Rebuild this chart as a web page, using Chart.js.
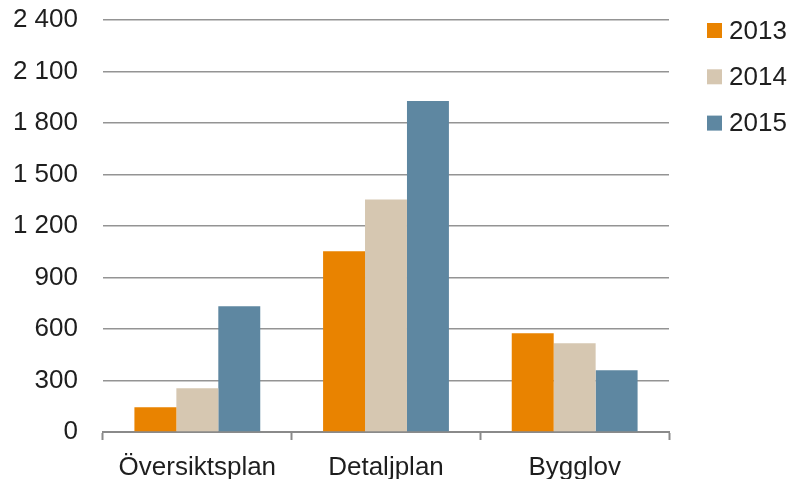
<!DOCTYPE html>
<html>
<head>
<meta charset="utf-8">
<script src="https://cdn.jsdelivr.net/npm/chart.js@4"></script>
<style>
  html, body { margin: 0; padding: 0; background: #ffffff; }
  #wrap { width: 792px; height: 479px; }
</style>
</head>
<body>
<div id="wrap"><canvas id="c" width="792" height="479"></canvas></div>
<script>
// Plan- och bygglovsärenden per typ och år
const categories = ['Översiktsplan', 'Detaljplan', 'Bygglov'];
const years = ['2013', '2014', '2015'];
const v2013 = [144, 1053, 575];
const v2014 = [255, 1355, 517];
const v2015 = [733, 1928, 360];
const yTicks = [0, 300, 600, 900, 1200, 1500, 1800, 2100, 2400];

const colors = ['#e98300', '#d6c7b1', '#5e87a1'];
const FONT = "'Liberation Sans', Arial, Helvetica, sans-serif";
const TEXT = '#1e1e1e';

// thousands grouped with a space: 2400 -> "2 400"
const fmt = v => String(v).replace(/\B(?=(\d{3})+(?!\d))/g, ' ');

// Legend stacked in the right margin
const sideLegend = {
  id: 'sideLegend',
  afterDraw(chart) {
    const ctx = chart.ctx;
    ctx.save();
    ctx.font = '26px ' + FONT;
    ctx.textBaseline = 'middle';
    ctx.textAlign = 'left';
    chart.data.datasets.forEach((ds, i) => {
      const cy = 30.5 + i * 46.3;
      ctx.fillStyle = ds.backgroundColor;
      ctx.fillRect(707, cy - 7.5, 15, 15);
      ctx.fillStyle = TEXT;
      ctx.fillText(ds.label, 729, cy + 1);
    });
    ctx.restore();
  }
};

new Chart(document.getElementById('c'), {
  type: 'bar',
  data: {
    labels: categories,
    datasets: [
      { label: years[0], data: v2013, backgroundColor: colors[0] },
      { label: years[1], data: v2014, backgroundColor: colors[1] },
      { label: years[2], data: v2015, backgroundColor: colors[2] }
    ]
  },
  options: {
    responsive: false,
    animation: false,
    devicePixelRatio: 1,
    layout: { padding: { top: 20, right: 123, bottom: 0, left: 0 } },
    datasets: {
      bar: { categoryPercentage: 0.667, barPercentage: 1.0, borderWidth: 0 }
    },
    plugins: {
      legend: { display: false },
      tooltip: { enabled: false }
    },
    scales: {
      x: {
        offset: true,
        grid: {
          display: true,
          offset: true,
          drawOnChartArea: false,
          drawTicks: true,
          tickLength: 8,
          tickWidth: 2,
          tickColor: '#8a8a8a'
        },
        border: { display: true, color: '#8a8a8a', width: 2 },
        ticks: {
          color: TEXT,
          font: { family: FONT, size: 26 },
          padding: 12,
          maxRotation: 0
        },
        afterFit(scale) { scale.height = 47; }
      },
      y: {
        min: 0,
        max: 2400,
        afterBuildTicks(scale) { scale.ticks = yTicks.map(v => ({ value: v })); },
        grid: {
          color: '#949494',
          lineWidth: 1.5,
          drawTicks: false
        },
        border: { display: false },
        ticks: {
          color: TEXT,
          font: { family: FONT, size: 26 },
          padding: 25,
          callback: v => fmt(v)
        },
        afterFit(scale) {
          scale.width = 103;
          scale.paddingTop = 0;
          scale.paddingBottom = 0;
        }
      }
    }
  },
  plugins: [sideLegend]
});
</script>
</body>
</html>
